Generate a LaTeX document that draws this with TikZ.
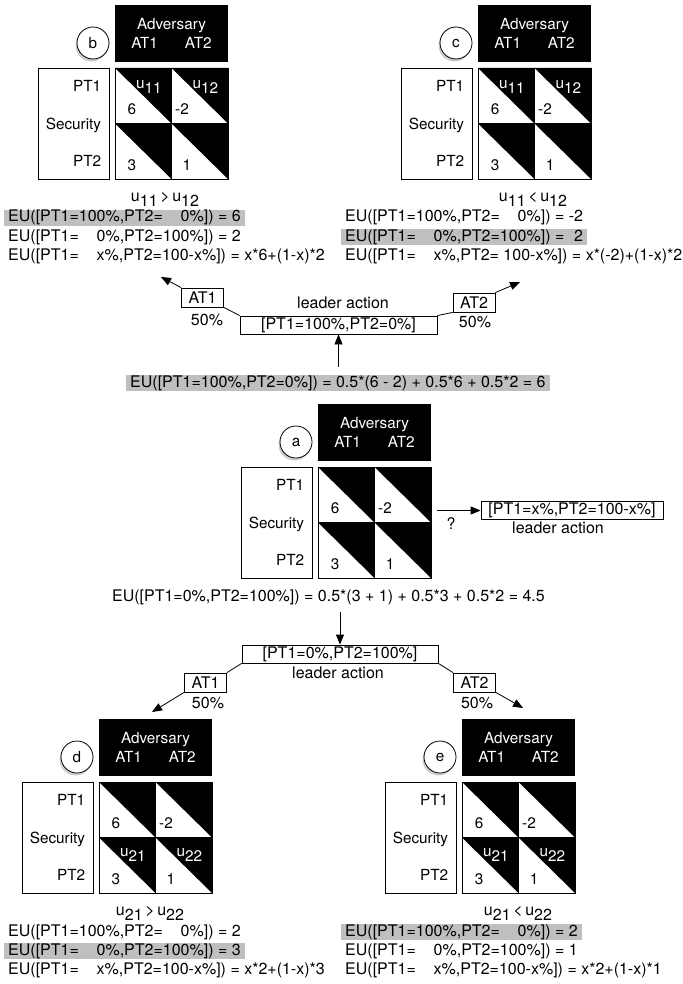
\documentclass[tikz,border=0pt]{standalone}
\usepackage{fontspec}
\setmainfont{TeX Gyre Heros}
\usetikzlibrary{arrows.meta,shadows}
\newcommand{\payoff}[1]{u\raisebox{-5pt}{#1}}

\begin{document}
\begin{tikzpicture}[x=1pt, y=-1pt,
    font=\fontsize{16}{19}\selectfont,
    adv/.style={fill=black, text=white, minimum width=113pt, minimum height=57pt, inner sep=0pt, align=center, font=\fontsize{15.3}{18.4}\selectfont},
    tag/.style={circle, draw, fill=white, line width=0.8pt, minimum size=32pt, inner sep=0pt, font=\fontsize{15.3}{18.4}\selectfont,
        drop shadow={shadow xshift=-1.5pt, shadow yshift=-2.5pt, opacity=0.4}},
    sec/.style={draw, line width=0.8pt, minimum width=71pt, minimum height=111pt, inner sep=0pt, align=right, font=\fontsize{15.3}{18.4}\selectfont},
    cell/.style={draw, line width=0.8pt, minimum width=56.5pt, minimum height=55.5pt, inner sep=0pt,
        path picture={\fill (path picture bounding box.north west) -- (path picture bounding box.north east) -- (path picture bounding box.south east) -- cycle;}},
    num/.style={inner sep=0pt, font=\fontsize{15.3}{18.4}\selectfont},
    util/.style={text=white, inner sep=0pt, font=\fontsize{15.3}{18.4}\selectfont},
    eu/.style={anchor=west, inner xsep=4pt, inner ysep=0pt, text height=12pt, text depth=4pt},
    hl/.style={eu, fill=black!25},
    act/.style={draw, line width=0.8pt, minimum height=18pt, inner sep=0pt},
    atk/.style={act, minimum width=42pt, minimum height=19pt},
    lbl/.style={inner sep=0pt},
    link/.style={line width=0.8pt},
    arr/.style={link, -{Triangle[length=10pt, width=8pt]}}
]
\useasboundingbox (0,0) rectangle (682,984);

% ---- games ----
\foreach \g/\gx/\gy in {b/115/68, c/478/68, a/318/467, d/99/782, e/462/782} {
  \node[adv] (\g-adv) at (\gx+56.5,\gy-34.5) {Adversary\\AT1\hspace{27pt}AT2};
  \node[tag] (\g-tag) at (\gx-22,\gy-25) {\g};
  \node[sec] (\g-sec) at (\gx-41.5,\gy+55.5) {PT1\\[19pt]Security\\[19pt]PT2};
  \node[cell] (\g-11) at (\gx+28.25,\gy+27.75) {};
  \node[cell] (\g-12) at (\gx+84.75,\gy+27.75) {};
  \node[cell] (\g-21) at (\gx+28.25,\gy+83.25) {};
  \node[cell] (\g-22) at (\gx+84.75,\gy+83.25) {};
  \node[num] (\g-v11) at (\gx+17,\gy+41.5) {6};
  \node[num] (\g-v12) at (\gx+67,\gy+41.5) {-2};
  \node[num] (\g-v21) at (\gx+17,\gy+97) {3};
  \node[num] (\g-v22) at (\gx+72,\gy+97) {1};
}

% ---- payoffs ----
\foreach \g in {b,c} {
  \node[util] (\g-u11) at ([shift={(-23,19)}]\g-11.north east) {\payoff{11}};
  \node[util] (\g-u12) at ([shift={(-23,19)}]\g-12.north east) {\payoff{12}};
}
\foreach \g in {d,e} {
  \node[util] (\g-u21) at ([shift={(-23,18)}]\g-21.north east) {\payoff{21}};
  \node[util] (\g-u22) at ([shift={(-23,18)}]\g-22.north east) {\payoff{22}};
}

\node[lbl] (b-cap) at (165,199) {\payoff{11}\,>\,\payoff{12}};
\node[lbl] (c-cap) at (533,199) {\payoff{11}\,<\,\payoff{12}};
\node[lbl] (d-cap) at (150,913) {\payoff{21}\,>\,\payoff{22}};
\node[lbl] (e-cap) at (518,913) {\payoff{21}\,<\,\payoff{22}};

% ---- expected utilities ----
\node[hl] (b-eu1) at (4,218) {EU([PT1=100\%,PT2=\phantom{10}0\%]) = 6};
\node[eu] (b-eu2) at (4,237) {EU([PT1=\phantom{10}0\%,PT2=100\%]) = 2};
\node[eu] (b-eu3) at (4,256) {EU([PT1=\phantom{10}x\%,PT2=100-x\%]) = x*6+(1-x)*2};

\node[eu] (c-eu1) at (341,218) {EU([PT1=100\%,PT2=\phantom{10}0\%]) = -2};
\node[hl] (c-eu2) at (341,237) {EU([PT1=\phantom{10}0\%,PT2=100\%]) = \phantom{-}2};
\node[eu] (c-eu3) at (341,256) {EU([PT1=\phantom{10}x\%,PT2= 100-x\%]) = x*(-2)+(1-x)*2};

\node[eu] (d-eu1) at (4,932) {EU([PT1=100\%,PT2=\phantom{10}0\%]) = 2};
\node[hl] (d-eu2) at (4,951) {EU([PT1=\phantom{10}0\%,PT2=100\%]) = 3};
\node[eu] (d-eu3) at (4,970) {EU([PT1=\phantom{10}x\%,PT2=100-x\%]) = x*2+(1-x)*3};

\node[hl] (e-eu1) at (341,932) {EU([PT1=100\%,PT2=\phantom{10}0\%]) = 2};
\node[eu] (e-eu2) at (341,951) {EU([PT1=\phantom{10}0\%,PT2=100\%]) = 1};
\node[eu] (e-eu3) at (341,970) {EU([PT1=\phantom{10}x\%,PT2=100-x\%]) = x*2+(1-x)*1};

% ---- leader actions ----
\node[act, minimum width=197pt] (lead1) at (338.5,325) {[PT1=100\%,PT2=0\%]};
\node[lbl] (lead1-t) at (343,303) {leader action};
\node[atk] (at1a) at (202.5,297.5) {AT1};
\node[atk] (at2a) at (474,302.5) {AT2};
\node[lbl] (p1a) at (207,320) {50\%};
\node[lbl] (p2a) at (475,322) {50\%};
\coordinate (b-in) at (161,277);
\coordinate (c-in) at (520,282);
\node[hl] (eu-top) at (126,383) {EU([PT1=100\%,PT2=0\%]) = 0.5*(6 - 2) + 0.5*6 + 0.5*2 = 6};

\node[act, minimum width=182pt] (lead-x) at (572,510.5) {[PT1=x\%,PT2=100-x\%]};
\node[lbl] (lead-x-t) at (558,528) {leader action};
\node[eu, anchor=east] (eu-mid) at (549,597) {EU([PT1=0\%,PT2=100\%]) = 0.5*(3 + 1) + 0.5*3 + 0.5*2 = 4.5};

\node[act, minimum width=196pt] (lead2) at (340,654) {[PT1=0\%,PT2=100\%]};
\node[lbl] (lead2-t) at (338,673) {leader action};
\node[atk] (at1b) at (205.5,682.5) {AT1};
\node[atk] (at2b) at (474.5,682.5) {AT2};
\node[lbl] (p1b) at (208,703) {50\%};
\node[lbl] (p2b) at (477,703) {50\%};
\coordinate (d-in) at (152,712);
\coordinate (e-in) at (523,708);

% ---- edges ----
\draw[arr, shorten <=8pt] (lead1 |- eu-top.north) -- (lead1);
\draw[link] (lead1.north west) -- (at1a.south east);
\draw[arr] (at1a.north west) -- (b-in);
\draw[link] (lead1.north east) -- (at2a.south west);
\draw[arr] (at2a.north east) -- (c-in);

\draw[arr, shorten <=6pt] (a-12.east |- lead-x) -- node[lbl, pos=0.4, below=7pt] (qm) {?} (lead-x);

\draw[arr, shorten <=7pt] (lead2 |- eu-mid.south) -- (lead2);
\draw[link] (lead2.south west) -- (at1b.north east);
\draw[arr] (at1b.south west) -- (d-in);
\draw[link] (lead2.south east) -- (at2b.north west);
\draw[arr] (at2b.south east) -- (e-in);

\end{tikzpicture}
\end{document}
